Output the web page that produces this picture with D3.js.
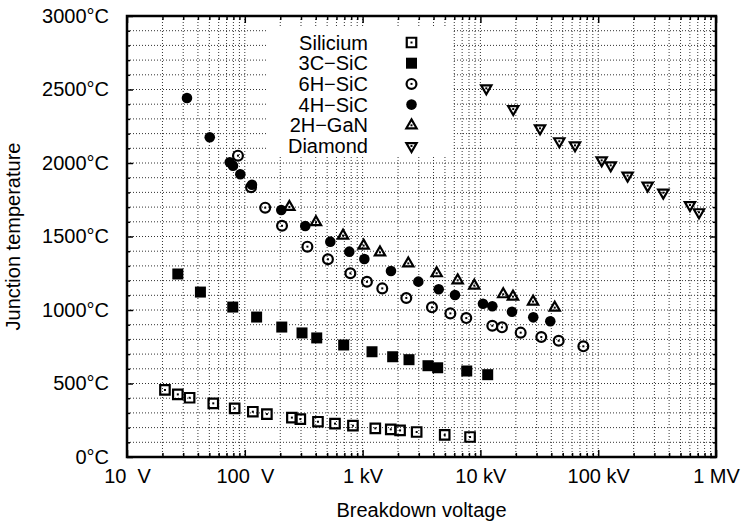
<!DOCTYPE html>
<head>
    <meta charset="utf-8" />
    <script src="https://d3js.org/d3.v7.min.js"></script>
    <style>
        body {
            margin: 0;
            background: #fff;
        }
        text {
            font-family: "Liberation Sans", Arial, sans-serif;
            font-size: 20px;
            fill: #000;
        }
        .grid line {
            stroke: #333;
            stroke-width: 1;
            stroke-dasharray: 1, 2;
        }
        .tick line {
            stroke: #000;
            stroke-width: 1.5;
        }
        .domain {
            display: none;
        }
    </style>
    <title>Junction temperature</title>
</head>

<body>
    <script>
        // donnees : [tension de claquage (V), temperature (°C)]
        var silicium = [[21, 456], [27, 426], [34, 403], [54, 365], [82, 331], [117, 308], [154, 292],
            [251, 268], [296, 258], [418, 240], [583, 227], [828, 213], [1282, 195], [1734, 188],
            [2080, 181], [2877, 170], [4977, 150], [8170, 136]];
        var sic3C = [[27, 1245], [42, 1122], [79, 1020], [126, 952], [206, 884], [306, 844], [408, 810],
            [691, 762], [1202, 716], [1800, 682], [2477, 662], [3589, 621], [4337, 607], [7656, 585],
            [11535, 560]];
        var sic6H = [[87.5, 2050], [113, 1835], [149, 1696], [207, 1573], [340, 1431], [508, 1345],
            [787, 1250], [1089, 1192], [1469, 1147], [2350, 1082], [3880, 1018], [5560, 977], [7590, 945],
            [12620, 893], [15240, 882], [21970, 846], [32880, 816], [46200, 791], [74800, 753]];
        var sic4H = [[32.3, 2442], [50.4, 2175], [74.5, 2005], [79.4, 1982], [91.6, 1923], [115, 1852],
            [204, 1680], [326, 1571], [532, 1465], [771, 1397], [1035, 1347], [1742, 1265], [2972, 1193],
            [4426, 1141], [6085, 1102], [10520, 1043], [12620, 1025], [18540, 988], [28100, 950],
            [39200, 923]];
        var gan2H = [[239, 1701], [402, 1597], [682, 1506], [1020, 1438], [1405, 1392], [2443, 1317],
            [4254, 1250], [6412, 1202], [8870, 1166], [15630, 1107], [18900, 1091], [27990, 1057],
            [42760, 1016]];
        var diamond = [[11220, 2508], [19000, 2367], [32070, 2236], [46760, 2148], [63550, 2120],
            [107000, 2018], [127700, 1984], [177800, 1914], [263000, 1846], [357000, 1798],
            [601000, 1714], [717000, 1665]];

        var seriesNames = ["Silicium", "3C\u2212SiC", "6H\u2212SiC", "4H\u2212SiC", "2H\u2212GaN", "Diamond"];
        var xTicks = [10, 100, 1e3, 1e4, 1e5, 1e6];
        var xTickLabels = ["10  V", "100  V", "1 kV", "10 kV", "100 kV", "1 MV"];
        var yTicks = [0, 500, 1000, 1500, 2000, 2500, 3000];
        var yTickLabels = ["0°C", "500°C", "1000°C", "1500°C", "2000°C", "2500°C", "3000°C"];

        var width = 746,
            height = 523;
        // cadre du graphe (pas "top" : window.top est en lecture seule)
        var x0 = 127, x1 = 716, y0 = 16, y1 = 457;

        var svg = d3.select("body").append("svg")
            .attr("width", width)
            .attr("height", height);

        var x = d3.scaleLog().domain([10, 1e6]).range([x0, x1]);
        var y = d3.scaleLinear().domain([0, 3000]).range([y1, y0]);

        // grille pointillee (toutes les graduations mineures)
        var xMinor = x.ticks().filter(d => d > 10 && d < 1e6);
        var yMinor = y.ticks(30).filter(d => d > 0 && d < 3000);
        var grid = svg.append("g").attr("class", "grid");
        grid.selectAll(".gx").data(xMinor).join("line")
            .attr("x1", d => x(d)).attr("x2", d => x(d))
            .attr("y1", y0).attr("y2", y1);
        grid.selectAll(".gy").data(yMinor).join("line")
            .attr("x1", x0).attr("x2", x1)
            .attr("y1", d => y(d)).attr("y2", d => y(d));

        // fond blanc de la legende
        svg.append("rect")
            .attr("x", 267).attr("y", 27)
            .attr("width", 186).attr("height", 130)
            .attr("fill", "#fff");

        // axes
        var xMinorOnly = xMinor.filter(d => xTicks.indexOf(d) < 0);
        var yMinorOnly = yMinor.filter(d => d % 500 !== 0);

        svg.append("g").attr("transform", "translate(0," + y1 + ")")
            .call(d3.axisBottom(x).tickValues(xTicks).tickSize(-7).tickPadding(12)
                .tickFormat((d, i) => xTickLabels[i]))
            .call(g => g.selectAll("text").style("white-space", "pre"));
        svg.append("g").attr("transform", "translate(0," + y1 + ")")
            .call(d3.axisBottom(x).tickValues(xMinorOnly).tickSize(-4).tickFormat(""));
        svg.append("g").attr("transform", "translate(0," + y0 + ")")
            .call(d3.axisTop(x).tickValues(xTicks).tickSize(-7).tickFormat(""));
        svg.append("g").attr("transform", "translate(0," + y0 + ")")
            .call(d3.axisTop(x).tickValues(xMinorOnly).tickSize(-4).tickFormat(""));

        svg.append("g").attr("transform", "translate(" + x0 + ",0)")
            .call(d3.axisLeft(y).tickValues(yTicks).tickSize(-6).tickPadding(18)
                .tickFormat((d, i) => yTickLabels[i]));
        svg.append("g").attr("transform", "translate(" + x0 + ",0)")
            .call(d3.axisLeft(y).tickValues(yMinorOnly).tickSize(-3).tickFormat(""));
        svg.append("g").attr("transform", "translate(" + x1 + ",0)")
            .call(d3.axisRight(y).tickValues(yTicks).tickSize(-6).tickFormat(""));
        svg.append("g").attr("transform", "translate(" + x1 + ",0)")
            .call(d3.axisRight(y).tickValues(yMinorOnly).tickSize(-3).tickFormat(""));

        svg.selectAll("g[font-family]").attr("font-family", null).attr("font-size", null);

        // cadre
        svg.append("rect")
            .attr("x", x0).attr("y", y0)
            .attr("width", x1 - x0).attr("height", y1 - y0)
            .attr("fill", "none")
            .attr("stroke", "#000")
            .attr("stroke-width", 2.5);

        // titres des axes
        svg.append("text")
            .attr("x", (x0 + x1) / 2).attr("y", 517)
            .attr("text-anchor", "middle")
            .text("Breakdown voltage");
        svg.append("text")
            .attr("transform", "translate(20," + (y0 + y1) / 2 + ") rotate(-90)")
            .attr("text-anchor", "middle")
            .text("Junction temperature");

        // styles des points
        var styles = [
            { type: d3.symbolSquare, size: 90, filled: false, rot: 0 },
            { type: d3.symbolSquare, size: 121, filled: true, rot: 0 },
            { type: d3.symbolCircle, size: 76, filled: false, rot: 0 },
            { type: d3.symbolCircle, size: 88, filled: true, rot: 0 },
            { type: d3.symbolTriangle, size: 46, filled: false, rot: 0 },
            { type: d3.symbolTriangle, size: 46, filled: false, rot: 180 }
        ];
        var allSeries = [silicium, sic3C, sic6H, sic4H, gan2H, diamond];

        function drawMarker(sel, st) {
            sel.append("path")
                .attr("d", d3.symbol().type(st.type).size(st.size)())
                .attr("transform", "rotate(" + st.rot + ")")
                .attr("fill", st.filled ? "#000" : "none")
                .attr("stroke", st.filled ? "none" : "#000")
                .attr("stroke-width", 2.2);
            if (!st.filled) {
                sel.append("rect")
                    .attr("x", -1).attr("y", -1)
                    .attr("width", 2).attr("height", 2)
                    .attr("fill", "#000");
            }
        }

        allSeries.forEach(function (data, k) {
            var pts = svg.append("g").selectAll("g").data(data).join("g")
                .attr("transform", d => "translate(" + x(d[0]) + "," + y(d[1]) + ")");
            pts.each(function () { drawMarker(d3.select(this), styles[k]); });
        });

        // legende
        var key = svg.append("g").selectAll("g").data(seriesNames).join("g")
            .attr("transform", (d, i) => "translate(0," + (42.5 + i * 20.7) + ")");
        key.append("text")
            .attr("x", 368)
            .attr("dy", "0.35em")
            .attr("text-anchor", "end")
            .text(d => d);
        key.append("g")
            .attr("transform", "translate(411.5,0)")
            .each(function (d, i) { drawMarker(d3.select(this), styles[i]); });
    </script>
</body>
